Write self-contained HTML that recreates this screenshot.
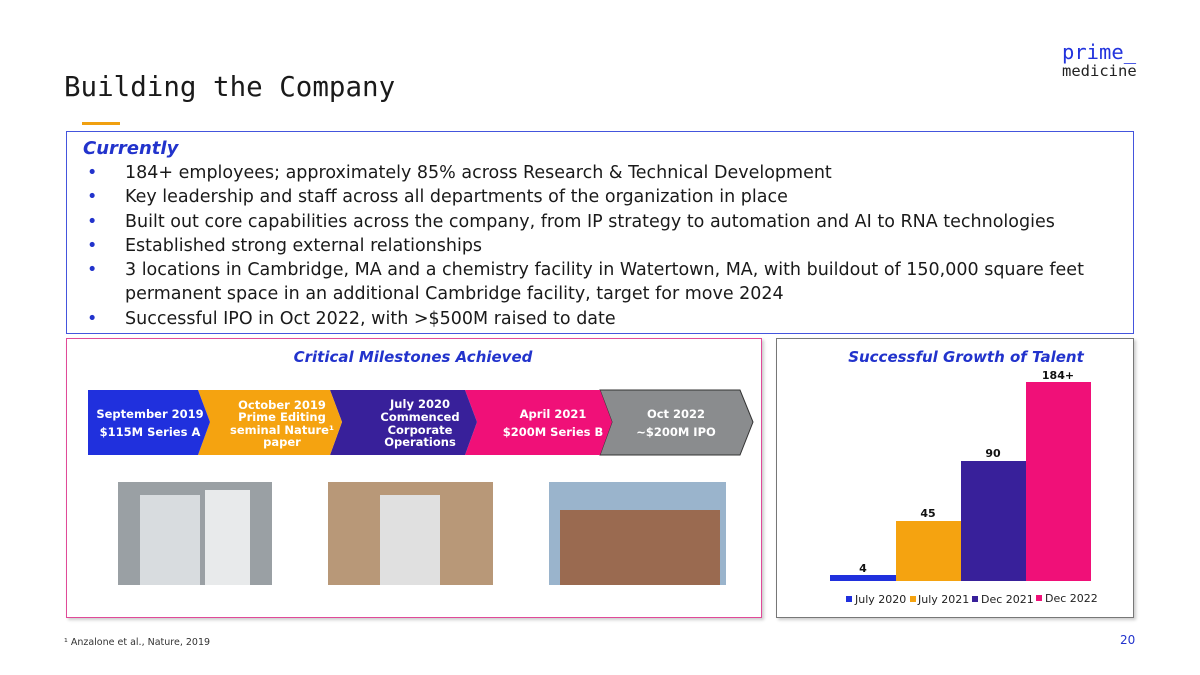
<!DOCTYPE html><html><head><style>
body{margin:0;width:1200px;height:675px;background:#fff;position:relative;font-family:"DejaVu Sans","Liberation Sans",sans-serif;overflow:hidden}
.a{position:absolute}
ul{margin:0;padding:0;list-style:none}
li{position:relative;padding-left:65px;font-size:17.5px;color:#1a1a1a;line-height:24.3px}
li:before{content:"•";position:absolute;left:27px;color:#2233cc}
</style></head><body>
<div class="a" style="left:64px;top:71px;font-family:'DejaVu Sans Mono','Liberation Mono',monospace;font-size:27.5px;color:#1a1a1a">Building the Company</div>
<div class="a" style="left:1062px;top:42px;font-family:'DejaVu Sans Mono',monospace;font-size:20.5px;line-height:20px;color:#2233dd">prime_</div>
<div class="a" style="left:1062px;top:62px;font-family:'DejaVu Sans Mono',monospace;font-size:15.5px;color:#222">medicine</div>
<div class="a" style="left:82px;top:122px;width:38px;height:3px;background:#f0a010"></div>
<div class="a" style="left:66px;top:131px;width:1066px;height:201px;border:1.5px solid #4455dd"></div>
<div class="a" style="left:83px;top:138px;font-size:18px;font-weight:bold;font-style:italic;color:#2233cc">Currently</div>
<ul class="a" style="left:60px;top:161px;width:1070px">
<li>184+ employees; approximately 85% across Research &amp; Technical Development</li>
<li>Key leadership and staff across all departments of the organization in place</li>
<li>Built out core capabilities across the company, from IP strategy to automation and AI to RNA technologies</li>
<li>Established strong external relationships</li>
<li>3 locations in Cambridge, MA and a chemistry facility in Watertown, MA, with buildout of 150,000 square feet permanent space in an additional Cambridge facility, target for move 2024</li>
<li>Successful IPO in Oct 2022, with &gt;$500M raised to date</li>
</ul>
<div class="a" style="left:66px;top:338px;width:694px;height:278px;border:1.5px solid #e04a98;box-shadow:2px 2px 3px #ccc"></div>
<div class="a" style="left:776px;top:338px;width:356px;height:278px;border:1.5px solid #777;box-shadow:2px 2px 3px #ccc"></div>
<div class="a" style="left:66px;top:348px;width:694px;text-align:center;font-size:15px;font-weight:bold;font-style:italic;color:#2233cc">Critical Milestones Achieved</div>
<div class="a" style="left:776px;top:348px;width:380px;text-align:center;font-size:15px;font-weight:bold;font-style:italic;color:#2233cc">Successful Growth of Talent</div>
<svg class="a" style="left:0;top:0" width="1200" height="675" font-family="DejaVu Sans,Liberation Sans,sans-serif" font-weight="bold" font-size="11.5" fill="#fff" text-anchor="middle">
<polygon points="600,390 740,390 753,422 740,455 600,455 612,422" fill="#8a8c8e" stroke="#333"/>
<polygon points="465,390 600,390 612,422 600,455 465,455 477,422" fill="#f01078"/>
<polygon points="330,390 465,390 477,422 465,455 330,455 342,422" fill="#38209a"/>
<polygon points="198,390 330,390 342,422 330,455 198,455 210,422" fill="#f5a310"/>
<polygon points="88,390 198,390 210,422 198,455 88,455" fill="#2030dd"/>
<text x="150" y="418">September 2019</text><text x="150" y="436">$115M Series A</text>
<text x="282" y="409">October 2019</text><text x="282" y="421">Prime Editing</text><text x="282" y="434">seminal Nature¹</text><text x="282" y="446">paper</text>
<text x="420" y="408">July 2020</text><text x="420" y="421">Commenced</text><text x="420" y="434">Corporate</text><text x="420" y="446">Operations</text>
<text x="553" y="418">April 2021</text><text x="553" y="436">$200M Series B</text>
<text x="676" y="418">Oct 2022</text><text x="676" y="436">~$200M IPO</text>
<rect x="118" y="482" width="154" height="103" fill="#9aa0a4"/><rect x="140" y="495" width="60" height="90" fill="#d8dcdf"/><rect x="205" y="490" width="45" height="95" fill="#e8eaeb"/>
<rect x="328" y="482" width="165" height="103" fill="#b89878"/><rect x="380" y="495" width="60" height="90" fill="#e0e0e0"/>
<rect x="549" y="482" width="177" height="103" fill="#9ab4cc"/><rect x="560" y="510" width="160" height="75" fill="#9a6a50"/>
<rect x="830" y="575" width="66" height="6" fill="#2030dd"/>
<rect x="896" y="521" width="65" height="60" fill="#f5a310"/>
<rect x="961" y="461" width="65" height="120" fill="#38209a"/>
<rect x="1026" y="382" width="65" height="199" fill="#f01078"/>
<g fill="#111" font-size="11"><text x="863" y="572">4</text><text x="928" y="517">45</text><text x="993" y="457">90</text><text x="1058" y="379">184+</text></g>
<g font-weight="normal" font-size="11" fill="#222" text-anchor="start">
<rect x="846" y="596" width="6" height="6" fill="#2030dd"/><text x="855" y="603">July 2020</text>
<rect x="910" y="596" width="6" height="6" fill="#f5a310"/><text x="918" y="603">July 2021</text>
<rect x="972" y="596" width="6" height="6" fill="#38209a"/><text x="981" y="603">Dec 2021</text>
<rect x="1036" y="595" width="6" height="6" fill="#f01078"/><text x="1045" y="602">Dec 2022</text>
</g>
</svg>
<div class="a" style="left:64px;top:637px;font-size:9.5px;color:#333">¹ Anzalone et al., Nature, 2019</div>
<div class="a" style="left:1120px;top:633px;font-size:12px;color:#2233cc">20</div>
</body></html>
